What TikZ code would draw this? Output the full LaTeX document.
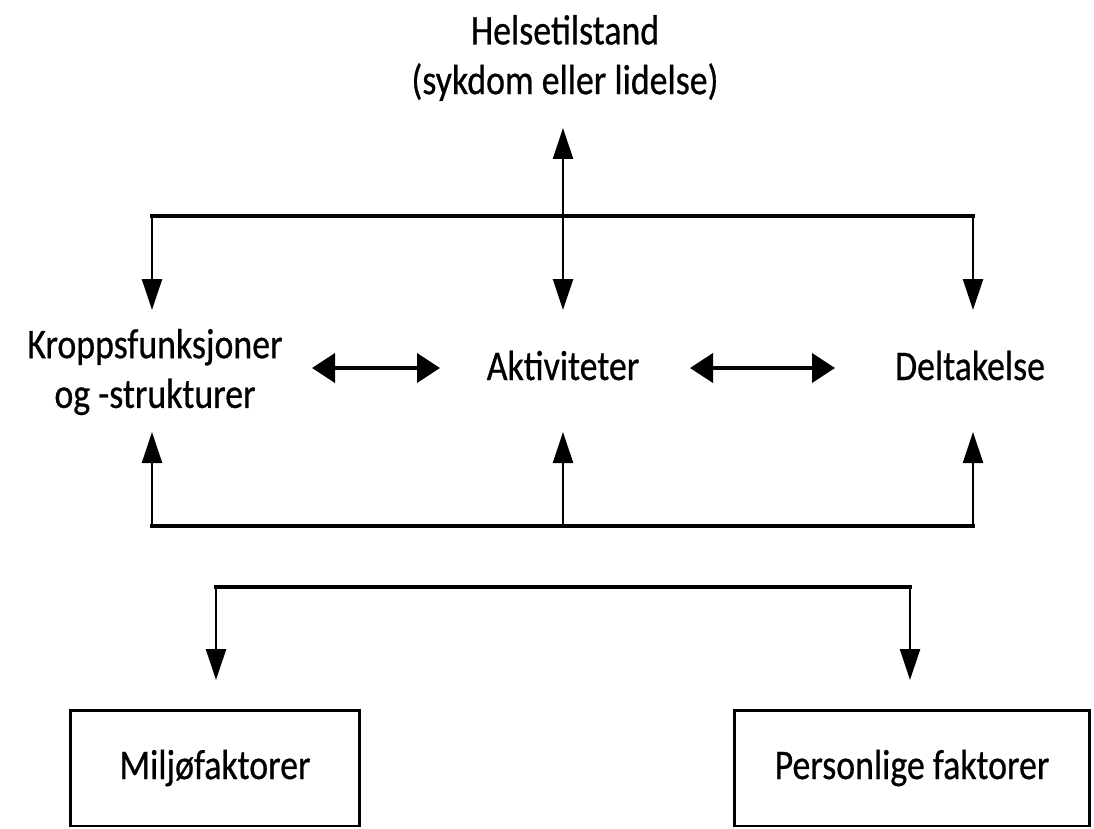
\documentclass[tikz,border=0pt]{standalone}
\usepackage{fontspec}
\setmainfont[FakeStretch=0.85,FakeBold=0.6]{Carlito}
\usetikzlibrary{arrows.meta}
\begin{document}
\begin{tikzpicture}[x=0.02cm,y=-0.02cm,
  lbl/.style={font=\fontsize{24}{28.3}\selectfont, inner sep=0pt, align=center},
  vline/.style={line width=1.4pt},
  hline/.style={line width=2.2pt, line cap=rect},
  tipend/.style={-{Triangle[length=0.62cm,width=0.40cm]}},
  tipboth/.style={{Triangle[length=0.62cm,width=0.40cm]}-{Triangle[length=0.62cm,width=0.40cm]}},
  dtip/.style={{Triangle[length=0.46cm,width=0.58cm]}-{Triangle[length=0.46cm,width=0.58cm]}, line width=2.2pt},
  box/.style={draw, line width=1.7pt, font=\fontsize{24}{28.3}\selectfont, inner sep=0pt}]
\useasboundingbox (0,0) rectangle (1094,828);

% text nodes
\node[lbl] (helse) at (565,58) {Helsetilstand\\(sykdom eller lidelse)};
\node[lbl] (kropp) at (155,372) {Kroppsfunksjoner\\og -strukturer};
\node[lbl, anchor=base] (akt) at (563,380) {Aktiviteter};
\node[lbl, anchor=base] (delt) at (970,380) {Deltakelse};
\node[box, minimum width=5.8cm, minimum height=2.32cm] (milj) at (215,768) {Miljøfaktorer};
\node[box, minimum width=7.1cm, minimum height=2.32cm] (pers) at (912,768) {Personlige faktorer};

% coordinates: top bracket
\coordinate (hTip) at (563,128);
\coordinate (jL) at (152,216);
\coordinate (jR) at (973,216);
\coordinate (kTop) at (152,310);
\coordinate (aTop) at (563,310);
\coordinate (dTop) at (973,310);
% bottom bracket
\coordinate (bL) at (152,526);
\coordinate (bM) at (563,526);
\coordinate (bR) at (973,526);
\coordinate (kBot) at (152,432);
\coordinate (aBot) at (563,432);
\coordinate (dBot) at (973,432);
% lower bracket
\coordinate (lL) at (216,587);
\coordinate (lR) at (910,587);
\coordinate (mTop) at (216,680);
\coordinate (pTop) at (910,680);
% double arrows
\coordinate (kR) at (312,368);
\coordinate (aL) at (440,368);
\coordinate (aR) at (690,368);
\coordinate (dL) at (835,368);

% top bracket
\draw[hline] (jL) -- (jR);
\draw[vline,tipend] (jL) -- (kTop);
\draw[vline,tipend] (jR) -- (dTop);
\draw[vline,tipboth] (hTip) -- (aTop);

% bottom bracket
\draw[hline] (bL) -- (bR);
\draw[vline,tipend] (bL) -- (kBot);
\draw[vline,tipend] (bM) -- (aBot);
\draw[vline,tipend] (bR) -- (dBot);

% lower bracket
\draw[hline] (lL) -- (lR);
\draw[vline,tipend] (lL) -- (mTop);
\draw[vline,tipend] (lR) -- (pTop);

% horizontal double arrows
\draw[dtip] (kR) -- (aL);
\draw[dtip] (aR) -- (dL);
\end{tikzpicture}
\end{document}
